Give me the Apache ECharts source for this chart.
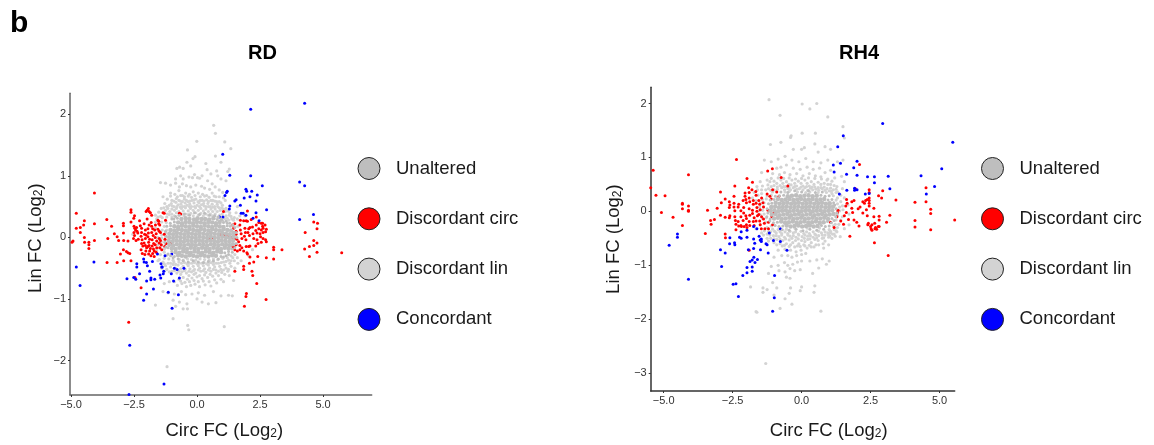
<!DOCTYPE html>
<html><head><meta charset="utf-8">
<script src="https://cdn.jsdelivr.net/npm/echarts@6/dist/echarts.min.js"></script>
<style>html,body{margin:0;padding:0;background:#fff}#c{width:1154px;height:445px}</style></head>
<body><div id="c"></div>
<script>
const legendNames = ['Unaltered','Discordant circ','Discordant lin','Concordant'];
const rdXTicks = [-5,-2.5,0,2.5,5];
const rdYTicks = [-2,-1,0,1,2];
const rh4XTicks = [-5,-2.5,0,2.5,5];
const rh4YTicks = [-3,-2,-1,0,1,2];

const rdConcordant = [[4.27,2.18],[2.13,2.08],[1.02,1.35],[1.3,1.01],[2.13,1],[4.07,.9],[4.27,.84],[2.59,.84],[1.94,.78],[1.97,.75],[2.17,.75],[1.2,.75],[1.17,.73],[1.11,.68],[2.39,.69],[2.1,.66],[1.87,.64],[2.34,.59],[1.55,.61],[1.5,.59],[1.72,.52],[1.3,.51],[1.28,.46],[2.76,.45],[2.34,.4],[1.75,.39],[1.83,.39],[1.94,.36],[.89,.33],[1.03,.33],[2.22,.31],[2.46,.27],[4.07,.29],[4.62,.37],[-4.09,-.4],[-4.79,-.48],[-4.64,-.78],[-2.67,-1.75],[-1.31,-2.38],[-2.7,-2.55],[-.99,-1.15],[-.74,-.93],[-1.14,-.89],[-2.12,-1.02],[-2,-.92],[-1.73,-.84],[-2.78,-.67],[-2.51,-.65],[-2.43,-.68],[-2.28,-.59],[-2.39,-.43],[-2.39,-.48],[-2.12,-.35],[-2.1,-.4],[-2.01,-.41],[-1.97,-.46],[-1.77,-.39],[-1.88,-.55],[-1.83,-.66],[-2,-.71],[-1.83,-.69],[-1.68,-.68],[-1.44,-.66],[-1.47,-.61],[-1.34,-.59],[-1.32,-.55],[-1.43,-.43],[-1.4,-.48],[-1.38,-.48],[-.93,-.71],[-.7,-.66],[-1.02,-.59],[-.9,-.5],[-.79,-.52],[-1.57,-.27],[-1.27,-.3],[-1,-.27],[-.52,-.5]];

const rdCirc = [[-4.92,-.06],[-4.96,-.08],[-4.79,.39],[-4.79,.15],[-4.63,.16],[-4.47,.27],[-4.5,.2],[-4.63,.08],[-4.47,0],[-4.46,-.08],[-4.29,-.08],[-4.29,-.12],[-4.29,-.18],[-4.07,.72],[-4.07,.22],[-4.07,-.05],[-3.58,.29],[-3.57,-.41],[-3.54,-.02],[-3.39,.18],[-3.28,.06],[-3.17,.01],[-3.17,-.41],[-3.11,-.05],[-2.92,.23],[-2.92,.19],[-2.92,.07],[-2.91,-.05],[-3.04,-.27],[-2.92,-.2],[-2.91,-.38],[-2.8,-.23],[-2.62,-.38],[-2.71,-1.38],[-2.74,-.06],[-2.62,.45],[-2.62,.41],[-2.51,.31],[-2.62,.25],[-2.74,-.25],[-2.67,-.26],[-2.46,-.65],[-2.22,-.82],
[-2.48,.35],[-2.5,.18],[-2.47,.15],[-2.44,.12],[-2.5,.08],[-2.48,.03],[-2.52,-.02],[-2.42,-.05],[-2.38,.1],[-2.4,.16],[-2.35,.07],[-2.33,-.03],[-2.28,.27],[-2.25,.19],[-2.2,.15],[-2.2,.08],[-2.22,.02],[-2.18,-.04],[-2.2,-.1],[-2.15,-.14],[-2.22,-.2],[-2.17,-.26],[-2.1,.22],[-2.05,.12],[-2.08,.05],[-2.02,.04],[-2.05,-.02],[-2.1,-.09],[-2.05,-.13],[-2,-.17],[-2.03,-.22],[-2.07,-.28],[-2.02,.42],[-1.98,.44],[-1.93,.47],[-1.9,.42],[-1.98,.3],[-1.9,.2],[-1.95,.14],[-1.93,.07],[-1.95,.01],[-1.88,-.03],[-1.92,-.08],[-1.9,-.13],[-1.95,-.15],[-1.85,-.18],[-1.88,-.22],[-1.92,-.27],[-1.83,-.3],[-1.85,.4],[-1.8,.36],[-1.82,.24],[-1.8,.18],[-1.76,.14],[-1.8,.08],[-1.74,.03],[-1.78,-.04],[-1.72,-.1],[-1.78,-.14],[-1.73,-.19],[-1.7,-.22],[-1.76,-.26],[-1.7,-.31],[-1.65,.2],[-1.68,.12],[-1.62,.06],[-1.66,0],[-1.6,-.06],[-1.66,-.12],[-1.6,-.17],[-1.62,-.24],[-1.55,.28],[-1.52,.26],[-1.52,.22],[-1.48,.2],[-1.55,.13],[-1.5,.1],[-1.45,.08],[-1.5,-.02],[-1.45,-.05],[-1.5,-.09],[-1.42,-.12],[-1.48,-.17],[-1.4,-.2],[-1.35,.4],[-1.3,.39],[-1.25,.28],[-1.3,.05],[-1.27,-.03],[-1.22,-.1],[-1.28,-.15],[-1.1,-.12],[-1.05,-.1],[-.7,.39],[-.6,.2],[-.65,.38],
[1.15,.03],[1.3,.02],[1.4,0],[1.42,.2],[1.5,.22],[1.45,.15],[1.55,.1],[1.55,.05],[1.48,-.02],[1.58,-.03],[1.65,-.07],[1.55,-.12],[1.48,-.16],[1.5,-.2],[1.42,-.15],[1.6,-.22],[1.7,-.2],[1.72,.28],[1.7,.2],[1.72,.12],[1.75,.06],[1.78,-.02],[1.7,-.13],[1.78,-.17],[1.85,-.22],[1.85,.27],[1.9,.15],[1.92,.08],[1.88,.02],[1.94,-.04],[1.95,-.15],[1.98,-.25],[2,.43],[1.95,.27],[2,.26],[2.05,.14],[2.02,.08],[2.1,.16],[2.08,.03],[2.1,-.14],[2.05,-.15],[2,-.27],[2.1,-.32],[2.15,.29],[2.2,.17],[2.22,.06],[2.25,-.02],[2.35,.33],[2.35,.2],[2.33,.11],[2.38,.07],[2.38,-.04],[2.33,-.14],[2.42,-.1],[2.45,.24],[2.45,.14],[2.5,.06],[2.52,.01],[2.55,-.08],[2.55,.23],[2.6,.23],[2.6,.18],[2.62,.15],[2.55,.12],[2.62,.08],[2.62,-.02],[2.7,.2],[2.75,.13],[2.72,.09],[2.72,-.04],[2.75,-.07],[.95,.05],[1.05,.04],[.65,-.01],[.5,-.02],[1.12,-.05],[1.05,.42],
[5.74,-.25],[4.78,.23],[4.63,.25],[4.76,.14],[4.29,.08],[4.63,-.05],[4.76,-.09],[4.63,-.13],[4.46,-.15],[4.27,-.19],[4.76,-.24],[4.46,-.31],[3.37,-.2],[3.04,-.16],[3.04,-.2],[3.04,-.35],[2.75,-.33],[2.41,-.31],[2.74,-1.01],[2.37,-.75],[2.18,-.55],[2.21,-.62],[2.25,-.4],[2.08,-.42],[1.85,-.47],[1.85,-.52],[1.5,-.55],[1.96,-.91],[1.94,-.96],[1.88,-1.12]];

const rdLin = [[-3.2,2.35],[-2.42,2.35],[.66,1.82],[.73,1.69],[-.01,1.56],[-.38,1.42],[1.1,1.55],[1.34,1.44],[.73,1.32],[-.16,1.28],[-.08,1.31],[-.4,1.22],[-.69,1.14],[-.8,1.12],[-1.45,.89],[-.25,1.16],[.35,1.2],[.95,1.22],[.78,1.08],[1.28,1.11],[1.22,1.07],[.82,1],[.55,1.03],[.2,1],[-.1,1.02],[-.65,1],[-.55,.95],[-.32,.98],[-.18,.97],[.02,.97],[.1,.96],[.42,.92],[.6,.87],[.95,.95],[1.15,.92],[-1.25,.88],[-1.05,.85],[-.85,.88],[-.7,.82],[-.58,.87],[-.42,.84],[-.25,.82],[-.05,.85],[.18,.83],[.3,.8],[.5,.78],[.72,.82],[.88,.77],[1.02,.73],[-1.05,.72],[-.88,.7],[-.72,.76],[-.58,.68],[-.45,.72],[-.3,.7],[-.15,.74],[.05,.72],[.22,.7],[.38,.68],[.6,.72],[.75,.66],[-1.35,.66],[-1.18,.62],[-1,.6],[-.82,.63],[-.66,.59],[-.5,.62],[-.35,.58],[-.2,.6],[-.05,.62],[.12,.6],[.28,.59],[.45,.58],[.62,.6],[.78,.58],[.95,.56],[1.12,.6],[-1.28,.55],[-1.1,.52],[-.92,.5],[-.75,.53],[-.58,.5],[-.4,.52],[-.22,.5],[0,.52],[.18,.53],[.35,.5],[.52,.5],[.7,.5],[.88,.48],[1.05,.46],[1.22,.43],[-1.42,.47],[-1.25,.44],[-1.08,.42],[-.9,.44],[-.72,.42],[-.55,.43],[-.35,.43],[-.15,.44],[.05,.44],[.25,.43],[.45,.42],[.62,.42],[.8,.42],[1,.38],[1.15,.35],[1.35,.34],[-1.65,.36],[-1.45,.34],[-1.65,.25],[-1.55,-.38],[-1.35,-.4],[-1.15,-.42],[-.95,-.44],[-.75,-.45],[-.55,-.47],[-.35,-.46],[-.15,-.47],[.05,-.46],[.25,-.46],[.45,-.45],[.65,-.44],[.85,-.42],[1.05,-.4],[1.25,-.37],[1.42,-.33],[-1.4,-.5],[-1.2,-.52],[-1,-.55],[-.8,-.58],[-.6,-.56],[-.42,-.58],[-.22,-.56],[-.05,-.58],[.15,-.55],[.35,-.57],[.55,-.55],[.75,-.53],[.95,-.52],[1.15,-.5],[1.35,-.47],[1.62,-.42],[-.72,-.68],[-.55,-.65],[-.38,-.68],[-.2,-.66],[0,-.64],[.2,-.67],[.42,-.65],[.62,-.63],[.85,-.62],[1.1,-.6],[1.28,-.62],[-1.3,-.75],[-1.1,-.72],[-.78,-.78],[-.6,-.75],[-.42,-.8],[-.25,-.78],[-.08,-.76],[.1,-.8],[.32,-.77],[.55,-.79],[.78,-.74],[1.05,-.72],[1.45,-.7],[-1.35,-.88],[-1.15,-.9],[-.9,-.92],[-.62,-.88],[-.45,-.93],[-.2,-.92],[.05,-.9],[.3,-.94],[.65,-.88],[.95,-.95],[1.25,-.94],[1.4,-.95],[-.95,-1.02],[-.7,-1.05],[-.4,-1.08],[0,-1],[.2,-1.05],[.45,-1.08],[.75,-1.06],[-1.65,-1.1],[-.85,-1.12],[-.38,-1.16],[-.55,-1.16],[-.95,-1.32],[-.37,-1.43],[-.33,-1.5],[1.08,-1.45],[-1.19,-2.1],[2.05,-.3],[2.2,-.2],[1.75,-.38],[1.9,.35],[1.7,.35],[1.55,.4],[1.6,.5],[-2.55,.05],[-.85,.95],[.4,1.1],[-.55,1.12]];

const rdLinDense = [[-1.02,.55],[-.84,.57],[-.64,.54],[-.47,.56],[-.29,.54],[-.12,.56],[.08,.56],[.26,.55],[.43,.55],[.6,.54],[.8,.54],[1.01,.52],[-1.32,.48],[-1.16,.47],[-1,.46],[-.82,.47],[-.62,.47],[-.46,.48],[-.26,.47],[-.06,.48],[.15,.47],[.35,.46],[.55,.46],[.72,.46],[.92,.44],[1.12,.42],[1.3,.4],[-1.52,.41],[-1.33,.4],[-1.18,.38],[-1,.38],[-.82,.4],[-.62,.38],[-.45,.38],[-.25,.39],[-.05,.4],[.15,.39],[.35,.38],[.53,.38],[.72,.38],[.9,.36],[1.28,.36],[1.48,.32],[-1.55,.33],[-1.38,.32],[-1.2,.33],[-1,.33],[1.12,.3],[1.25,.28],[1.45,.28],[1.6,.3],[1.62,.18],[-1.65,.15],[-1.6,.3],[-1.4,.25],[-1.3,.18],[-1.22,.24],[-1.38,.12],[-1.2,.12],[-1.25,.07],[-1.4,.04],[-1.55,0],[-1.4,-.01],[-1.25,.01],[-1.58,-.06],[-1.42,-.07],[-1.27,-.05],[-1.55,-.12],[-1.4,-.13],[-1.25,-.11],[-1.45,-.18],[-1.3,-.19],[-1.3,-.24],[-1.2,-.29],[-1.45,-.28],[-1.6,-.2],
[-1.5,-.36],[-1.3,-.34],[-1.12,-.35],[-.95,-.37],[-.7,-.36],[-.55,-.37],[-.38,-.35],[-.22,-.36],[-.05,-.37],[.12,-.35],[.3,-.36],[.48,-.37],[.65,-.35],[.82,-.36],[1.02,-.34],[1.2,-.33],[1.35,-.3],[1.5,-.28],[1.6,-.33],[-1.25,-.46],[-1.05,-.48],[-.85,-.5],[-.65,-.51],[-.47,-.52],[-.28,-.51],[-.1,-.52],[.1,-.5],[.3,-.51],[.5,-.5],[.7,-.48],[.9,-.47],[1.1,-.45],[1.3,-.42],[1.48,-.38],[-.3,-.42],[-.1,-.41],[.08,-.42],[.28,-.41],[.45,-.42],[.65,-.4],[-.5,-.41],[-.72,-.4],[-.92,-.4],[-.65,-.6],[-.32,-.62],[-.12,-.6],[.1,-.62],[.3,-.61],[.52,-.6],[.75,-.58],[.98,-.57],[1.22,-.55],[1.5,-.5],
[-1.1,.37],[-.9,.35],[-.72,.36],[-.52,.35],[-.35,.37],[-.15,.35],[.05,.36],[.25,.35],[.45,.36],[.62,.35],[.82,.33],[1.02,.33],[1.2,.31],[1.38,.3],[-1.2,.5],[-.98,.51],[-.8,.5],[-.66,.49],[-.5,.5],[-.3,.5],[-.1,.5],[.1,.5],[.28,.51],[.45,.5],[.62,.49],[.82,.5],[.98,.48],[1.15,.47],[-.92,.59],[-.72,.6],[-.58,.58],[-.42,.6],[-.28,.59],[-.12,.61],[.04,.58],[.2,.6],[.38,.61],[.55,.6],[.7,.59],[.88,.58],[-1.05,.67],[-.78,.66],[-.65,.68],[-.5,.66],[-.35,.67],[-.22,.65],[-.08,.68],[.13,.66],[.3,.67],[.48,.65],[.68,.67],[.88,.66],[1.05,.64],
[-1.3,-.43],[-1.05,-.42],[-.85,-.44],[-.62,-.42],[-.4,-.43],[-.2,-.42],[0,-.43],[.18,-.42],[.38,-.43],[.56,-.41],[.76,-.42],[.96,-.41],[1.15,-.39],[1.35,-.38],[-1.3,-.55],[-1.1,-.56],[-.9,-.54],[-.72,-.55],[-.5,-.54],[-.32,-.55],[-.14,-.54],[.05,-.53],[.25,-.54],[.45,-.53],[.65,-.52],[.85,-.55],[1.05,-.53],[1.25,-.52],[-.9,-.72],[-.65,-.71],[-.48,-.73],[-.3,-.72],[-.12,-.7],[.05,-.72],[.25,-.71],[.48,-.72],[.7,-.69],[.95,-.68]];

const rdUnaltered = [[-.62,.3],[-.45,.31],[-.3,.3],[-.12,.29],[.02,.31],[.18,.3],[.32,.3],[.48,.29],[.65,.31],
[-.75,.24],[-.6,.23],[-.45,.25],[-.3,.24],[-.15,.23],[0,.25],[.15,.24],[.3,.23],[.45,.25],[.6,.24],[.75,.23],[.9,.25],
[-.9,.18],[-.75,.17],[-.6,.19],[-.45,.18],[-.3,.17],[-.15,.19],[0,.18],[.15,.17],[.3,.19],[.45,.18],[.6,.17],[.75,.19],[.9,.18],[1.05,.17],
[-1.05,.12],[-.9,.11],[-.75,.13],[-.6,.12],[-.45,.11],[-.3,.13],[-.15,.12],[0,.11],[.15,.13],[.3,.12],[.45,.11],[.6,.13],[.75,.12],[.9,.11],[1.05,.13],[1.2,.12],[1.35,.11],
[-1.1,.06],[-.95,.05],[-.8,.07],[-.65,.06],[-.5,.05],[-.35,.07],[-.2,.06],[-.05,.05],[.1,.07],[.25,.06],[.4,.05],[.55,.07],[.7,.06],[.85,.05],[1,.07],[1.15,.06],[1.3,.05],[1.45,.07],
[-1.1,0],[-.95,-.01],[-.8,.01],[-.65,0],[-.5,-.01],[-.35,.01],[-.2,0],[-.05,-.01],[.1,.01],[.25,0],[.4,-.01],[.55,.01],[.7,0],[.85,-.01],[1,.01],[1.15,0],[1.3,-.01],[1.45,.01],
[-1.12,-.06],[-.97,-.07],[-.82,-.05],[-.67,-.06],[-.52,-.07],[-.37,-.05],[-.22,-.06],[-.07,-.07],[.08,-.05],[.23,-.06],[.38,-.07],[.53,-.05],[.68,-.06],[.83,-.07],[.98,-.05],[1.13,-.06],[1.28,-.07],[1.43,-.05],
[-1.1,-.12],[-.95,-.13],[-.8,-.11],[-.65,-.12],[-.5,-.13],[-.35,-.11],[-.2,-.12],[-.05,-.13],[.1,-.11],[.25,-.12],[.4,-.13],[.55,-.11],[.7,-.12],[.85,-.13],[1,-.11],[1.15,-.12],[1.3,-.13],[1.42,-.11],
[-1,-.18],[-.85,-.19],[-.7,-.17],[-.55,-.18],[-.4,-.19],[-.25,-.17],[-.1,-.18],[.05,-.19],[.2,-.17],[.35,-.18],[.5,-.19],[.65,-.17],[.8,-.18],[.95,-.19],[1.1,-.17],[1.25,-.18],
[-.85,-.24],[-.7,-.25],[-.55,-.23],[-.4,-.24],[-.25,-.25],[-.1,-.23],[.05,-.24],[.2,-.25],[.35,-.23],[.5,-.24],[.65,-.25],[.8,-.23],[.95,-.24],
[-.75,-.29],[-.6,-.3],[-.45,-.31],[-.3,-.29],[-.15,-.3],[0,-.31],[.15,-.29],[.3,-.3],[.45,-.31],[.6,-.29],[.75,-.3]];

const rdUnalteredEdge = [[-.92,.3],[-.78,.31],[.8,.29],[.95,.3],[-1.06,.23],[-.9,.25],[1.05,.24],[1.2,.23],[-1.05,.19],[1.2,.19],[1.32,.18],[-1.2,.18],[-1.25,.1],[-1.22,.02],[-1.28,-.08],[-1.24,-.16],[-1.15,-.27],[-1,.3],[-.85,.34],[-.7,.36],[-.5,.38],[-.3,.36],[-.1,.4],[.1,.37],[.3,.39],[.5,.36],[.7,.35],[.85,.33],[1,.28],[1.15,.26],[1.3,.23],[1.42,.2],[1.5,.16],[1.55,.08],[1.58,0],[1.55,-.1],[1.5,-.17],[1.4,-.24],[1.25,-.28],[1.05,-.32],[.85,-.35],[.65,-.38],[.45,-.39],[.25,-.41],[.05,-.4],[-.15,-.38],[-.35,-.4],[-.55,-.38],[-.75,-.35],[-.95,-.33],[-1.15,-.17],[-1,-.23],[1.1,-.25],[1.25,-.23],[1.38,-.19],[-1.05,-.3],[-.9,-.31],[.95,-.31],[1.15,-.3]];

const rh4Concordant = [[2.94,1.63],[1.51,1.4],[1.31,1.2],[5.48,1.28],[5.08,.79],[2.01,.93],[1.41,.89],[1.15,.86],[1.18,.73],[1.89,.81],[2.01,.67],[1.63,.69],[2.39,.64],[2.64,.64],[3.14,.65],[4.33,.66],[2.64,.53],[4.82,.46],[3.2,.42],[1.92,.43],[1.92,.39],[2.01,.4],[1.64,.39],[1.37,.32],[2.31,.32],[2.45,.33],[4.52,.32],[-4.5,-.42],[-4.5,-.48],[-4.8,-.63],[-4.1,-1.26],[-2.94,-.71],[-2.77,-.77],[-2.9,-1.02],[-2.6,-.49],[-2.61,-.6],[-2.43,-.58],[-2.42,-.62],[-2.48,-1.35],[-2.38,-1.34],[-2.29,-1.58],[-2.13,-1.19],[-1.98,-1.14],[-1.98,-1.04],[-1.79,-1.03],[-1.79,-1.11],[-1.87,-.93],[-1.79,-.9],[-1.73,-.85],[-1.69,-.95],[-1.6,-.89],[-1.93,-.71],[-1.74,-.69],[-1.49,-.71],[-1.21,-.77],[-.98,-1.19],[-.99,-1.6],[-1.05,-1.85],[-2.19,-.38],[-2.19,-.5],[-1.98,-.35],[-1.98,-.48],[-1.74,-.28],[-1.62,-.32],[-1.74,-.51],[-1.7,-.59],[-1.54,-.46],[-1.5,-.53],[-1.46,-.51],[-1.29,-.6],[-1.25,-.62],[-1.02,-.54],[-.77,-.56],[-1.17,-.4],[-.77,-.32],[-.53,-.72],[-2.25,-.48],[-1.46,-.56],[-1.47,-.53]];

const rh4Circ = [[-5.38,.76],[-5.47,.44],[-5.28,.3],[-4.95,.29],[-5.08,-.02],[-4.66,-.11],[-4.32,-.26],[-4.32,.15],[-4.32,.13],[-4.32,.05],[-4.1,.68],[-4.1,.1],[-4.1,.02],[-4.1,0],[-3.49,-.41],[-3.41,.02],[-3.3,-.17],[-3.28,-.24],[-3.16,-.15],[-3.06,.06],[-2.94,.36],[-2.77,.23],[-2.91,.16],[-2.77,-.11],[-2.77,-.42],[-2.76,-.49],[-2.94,-.07],[-2.36,.96],[-2.42,.47],[-1.98,.61],[-1.23,.75],[-1.06,.79],[-.74,.63],[-1.9,-.72],
[-2.62,.18],[-2.6,.12],[-2.62,.07],[-2.6,-.08],[-2.62,-.12],[-2.45,.28],[-2.45,.15],[-2.45,.08],[-2.42,.01],[-2.42,-.1],[-2.4,-.17],[-2.38,-.24],[-2.38,-.34],[-2.3,.08],[-2.3,-.19],[-2.28,-.27],[-2.28,.13],[-2.2,.01],[-2.2,-.1],[-2.2,-.26],[-2.18,-.28],[-2.12,.2],[-2.1,.07],[-2.1,-.03],[-2.12,-.17],[-2.08,-.28],[-2.05,.34],[-2.05,.28],[-2.02,.22],[-2,.16],[-2.02,-.08],[-2,-.13],[-2,-.25],[-1.98,-.3],[-1.92,.44],[-1.9,.35],[-1.9,.25],[-1.88,.18],[-1.9,.05],[-1.88,-.07],[-1.9,-.19],[-1.88,-.26],[-1.8,.4],[-1.78,.54],[-1.75,.2],[-1.75,.13],[-1.78,.02],[-1.78,-.04],[-1.72,-.12],[-1.75,-.19],[-1.72,-.26],[-1.66,.37],[-1.65,.3],[-1.65,.15],[-1.62,.07],[-1.62,0],[-1.6,-.08],[-1.65,-.18],[-1.55,.2],[-1.52,.13],[-1.5,.03],[-1.55,-.06],[-1.52,-.18],[-1.5,-.25],[-1.45,.25],[-1.45,-.1],[-1.46,-.32],[-1.4,.16],[-1.38,.08],[-1.38,-.14],[-1.35,-.22],[-1.33,-.32],[-1.25,.32],[-1.22,.02],[-1.2,-.2],[-1.2,-.32],[-1.15,.28],[-1.1,.23],[-1.08,-.1],[-1.05,-.25],[-1.05,.4],[-.9,.36],[-.5,.47],[-.82,.28],[-1,-.02],[-.3,-.15],
[1.05,-.2],[1.18,-.3],[1.28,-.1],[1.3,-.02],[1.32,.02],[1.42,-.18],[1.52,-.24],[1.55,-.08],[1.6,.1],[1.62,-.02],[1.65,.15],[1.63,.22],[1.7,-.15],[1.82,.18],[1.82,.06],[1.85,-.02],[1.9,-.16],[1.9,.2],[1.95,.42],[2,-.2],[2.05,.05],[2.08,-.27],[2.1,.87],[2.12,.08],[2.22,.18],[2.28,.15],[2.22,-.03],[2.32,.2],[2.35,.03],[2.38,.22],[2.38,-.08],[2.4,-.25],[2.42,-.22],[2.45,.4],[2.45,.35],[2.45,.25],[2.45,.2],[2.45,.15],[2.45,.1],[2.5,-.28],[2.52,-.32],[2.55,-.35],[2.55,-.25],[2.62,.06],[2.62,-.1],[2.65,-.22],[2.68,-.3],[2.72,-.33],[2.78,-.28],[3.14,-.82],[2.64,-.58],[3.42,.21],[2.94,.38],[2.9,.25],[2.79,.29],[3.2,-.07],[3.08,-.2],[2.81,-.09],[2.81,-.16],[2.81,-.28],[2.66,-.32],[4.11,.17],[4.11,-.17],[4.11,-.29],[4.51,.44],[4.51,.18],[4.68,.04],[4.68,-.04],[4.68,-.34],[5.55,-.16],[1.75,-.46]];

const rh4Lin = [[-1.18,2.07],[.02,1.99],[.55,2],[.3,1.9],[-.78,1.78],[.95,1.75],[1.5,1.57],[.02,1.45],[.5,1.45],[-.38,1.4],[-.4,1.37],[1.55,1.36],[-1.13,1.24],[-.75,1.28],[-.3,1.15],[0,1.15],[.1,1.18],[.48,1.25],[.6,1.1],[.85,1.2],[1.05,1.15],[-1.35,.95],[-1.1,.92],[-.85,.97],[-.6,1.02],[-.35,.95],[-.1,.92],[.15,.98],[.42,.92],[.7,.9],[.95,.95],[1.3,.92],[1.5,.95],[-.9,.8],[-.75,.82],[-.55,.86],[-.3,.8],[-.05,.78],[.2,.82],[.42,.78],[.65,.8],[.85,.72],[1.05,.76],[1.45,.65],[-1.45,.72],[-1.05,.7],[-.8,.68],[-.62,.72],[-.42,.68],[-.18,.7],[.05,.66],[.28,.7],[.5,.66],[.7,.64],[.95,.6],[1.2,.62],[1.55,.55],[-1.5,.55],[-1.25,.58],[-1,.56],[-.75,.58],[-.55,.55],[-.35,.58],[-.12,.56],[.12,.58],[.35,.55],[.6,.54],[.82,.52],[1.05,.5],[1.28,.46],[1.48,.42],[-1.62,.46],[-1.42,.47],[-1.22,.49],[-1,.48],[-.78,.48],[-.58,.46],[-.38,.49],[-.18,.47],[.05,.47],[.28,.47],[.48,.45],[.7,.44],[.92,.42],[1.15,.4],[-1.72,.35],[-1.6,.4],[-1.45,.33],[1.25,.35],[1.42,.3],[1.55,.25],[-1.78,.25],[1.68,.12],[1.72,-.05],[-1.65,-.32],[-1.45,-.4],[-1.25,-.42],[-1.02,-.45],[-.82,-.47],[-.62,-.48],[-.42,-.46],[-.2,-.48],[.02,-.47],[.22,-.46],[.42,-.48],[.62,-.45],[.85,-.44],[1.05,-.4],[1.28,-.38],[1.55,-.32],[1.72,-.25],[-1.2,-.55],[-1,-.58],[-.78,-.6],[-.55,-.6],[-.32,-.58],[-.1,-.6],[.12,-.56],[.35,-.58],[.6,-.54],[.85,-.55],[1.1,-.5],[1.4,-.47],[-.85,-.72],[-.6,-.7],[-.4,-.72],[-.2,-.75],[-.02,-.72],[.2,-.68],[.45,-.66],[.8,-.68],[-1,-.85],[-.72,-.82],[-.5,-.82],[-.35,-.85],[-.18,-.82],[0,-.8],[.15,-.78],[.55,-.9],[.75,-.88],[1,-.92],[-1.1,-1.02],[-.85,-1],[-.62,-.95],[-.5,-1],[-.32,-.98],[-.15,-.94],[0,-.92],[.3,-.92],[.62,-1.05],[.9,-.98],[-1.2,-1.15],[-.82,-1.1],[-.6,-1.12],[-.42,-1.06],[-.25,-1.1],[-.05,-1.08],[.4,-1.15],[-.55,-1.22],[-.42,-1.24],[-1.05,-1.32],[-1.85,-1.4],[-.4,-1.42],[.48,-1.38],[-1.4,-1.42],[-1.25,-1.45],[-.9,-1.42],[-.05,-1.47],[.45,-1.5],[-1.4,-1.5],[-1,-1.55],[-.45,-1.52],[0,-1.4],[-.6,-1.62],[-.35,-1.72],[-.78,-1.8],[-1.62,-1.87],[-1.65,-1.86],[.7,-1.85],[-1.3,-2.82]];

const rh4LinDense = [[-.72,.44],[-.5,.42],[-.3,.44],[-.08,.42],[.12,.44],[.32,.43],[.52,.41],[-1.2,.42],[-1,.4],[.75,.42],[1,.38],[-1.05,.36],[-.9,.37],[-.6,.36],[-.45,.37],[-.15,.36],[.15,.35],[.3,.36],[.6,.35],[.9,.35],[1.1,.33],[-1.25,.29],[-1.1,.3],[1.15,.29],[1.3,.25],[-1.42,.22],[-1.28,.23],[1.25,.21],[1.42,.18],[-1.5,.15],[-1.36,.16],[1.3,.14],[1.48,.1],[-1.52,.08],[-1.38,.09],[1.38,.08],[1.5,.03],[-1.55,.01],[-1.41,.02],[1.38,.01],[-1.5,-.06],[-1.36,-.05],[1.3,-.07],[1.48,-.1],[-1.42,-.13],[-1.28,-.12],[1.25,-.16],[1.42,-.16],[-1.3,-.2],[1.22,-.24],[1.35,-.24],[-1.1,-.27],[1.15,-.27],[1.3,-.3],[-1.25,-.3],[-1.05,-.33],[-.85,-.34],[-.55,-.33],[-.25,-.31],[.2,-.31],[.65,-.31],[1,-.34],[1.18,-.34],[-.5,-.41],[-.3,-.4],[-.12,-.42],[.08,-.41],[.28,-.41],[.48,-.42],[.72,-.4],[.95,-.4],[1.12,-.42],[-.92,-.4],[-.72,-.41],[-1.12,-.38],[-1.35,-.36],
[-1.15,.55],[-.9,.52],[-.68,.52],[-.46,.5],[-.25,.52],[-.02,.52],[.2,.52],[.45,.5],[.7,.5],[.95,.5],[1.18,.48],[-1.3,.4],[-1.58,.3],[-1.65,.2],[-1.5,-.25],[-1.38,-.44],[-1.12,-.5],[-.9,-.52],[-.68,-.54],[-.45,-.53],[-.22,-.54],[0,-.54],[.22,-.52],[.48,-.52],[.75,-.5],[.98,-.48],[1.22,-.46],[-.7,-.64],[-.45,-.65],[-.25,-.66],[-.05,-.65],[.12,-.64],[.35,-.66],[.62,-.62],[.98,-.62],
[-1.1,.46],[-.88,.45],[-.65,.46],[-.45,.44],[-.25,.46],[-.02,.45],[.18,.46],[.38,.45],[.6,.44],[.82,.45],[1.05,.43],[1.25,.41],[-1.45,.4],[-1.12,.39],[-.88,.41],[-.62,.4],[-.4,.4],[-.18,.41],[.05,.4],[.22,.39],[.4,.4],[.62,.39],[.85,.39],[1.08,.37],[1.3,.36],[-1.1,.61],[-.85,.62],[-.65,.61],[-.45,.62],[-.22,.6],[0,.61],[.25,.62],[.48,.61],[.72,.6],[.92,.58],[1.1,.56],
[-1.2,-.38],[-.98,-.37],[-.78,-.38],[-.6,-.38],[-.42,-.37],[-.22,-.38],[-.02,-.37],[.18,-.38],[.42,-.38],[.62,-.37],[.85,-.38],[1.05,-.37],[1.25,-.36],[-1.15,-.44],[-.92,-.45],[-.72,-.44],[-.5,-.44],[-.3,-.45],[-.1,-.44],[.12,-.44],[.32,-.45],[.52,-.44],[.75,-.44],[.98,-.44],[1.18,-.42],[-1.25,-.5],[-1,-.51],[-.78,-.52],[-.58,-.51],[-.35,-.5],[-.12,-.51],[.1,-.5],[.3,-.51],[.55,-.49],[.8,-.49],[1.02,-.46],[-.9,-.62],[-.62,-.63],[-.4,-.62],[-.15,-.64],[.08,-.62],[.28,-.63],[.52,-.62],[.78,-.6]];

const rh4Unaltered = [[-.5,.28],[-.35,.29],[-.2,.3],[-.05,.28],[.1,.29],[.25,.3],[.4,.28],[.55,.29],
[-.86,.23],[-.72,.21],[-.58,.22],[-.44,.23],[-.3,.21],[-.16,.22],[-.02,.23],[.12,.21],[.26,.22],[.4,.23],[.54,.21],[.68,.22],[.82,.23],
[-.94,.16],[-.8,.14],[-.66,.15],[-.52,.16],[-.38,.14],[-.24,.15],[-.1,.16],[.04,.14],[.18,.15],[.32,.16],[.46,.14],[.6,.15],[.74,.16],[.88,.14],[1.02,.15],
[-1.1,.08],[-.96,.09],[-.82,.07],[-.68,.08],[-.54,.09],[-.4,.07],[-.26,.08],[-.12,.09],[.02,.07],[.16,.08],[.3,.09],[.44,.07],[.58,.08],[.72,.09],[.86,.07],[1,.08],[1.14,.09],
[-1.13,.01],[-.99,.02],[-.85,0],[-.71,.01],[-.57,.02],[-.43,0],[-.29,.01],[-.15,.02],[-.01,0],[.13,.01],[.27,.02],[.41,0],[.55,.01],[.69,.02],[.83,0],[.97,.01],[1.11,.02],
[-1.08,-.06],[-.94,-.05],[-.8,-.07],[-.66,-.06],[-.52,-.05],[-.38,-.07],[-.24,-.06],[-.1,-.05],[.04,-.07],[.18,-.06],[.32,-.05],[.46,-.07],[.6,-.06],[.74,-.05],[.88,-.07],[1.02,-.06],[1.16,-.05],
[-1,-.13],[-.86,-.12],[-.72,-.14],[-.58,-.13],[-.44,-.12],[-.3,-.14],[-.16,-.13],[-.02,-.12],[.12,-.14],[.26,-.13],[.4,-.12],[.54,-.14],[.68,-.13],[.82,-.12],[.96,-.14],
[-.74,-.19],[-.6,-.21],[-.46,-.2],[-.32,-.19],[-.18,-.21],[-.04,-.2],[.1,-.19],[.24,-.21],[.38,-.2],[.52,-.19],[.66,-.21],[.8,-.2],
[-.54,-.26],[-.4,-.28],[-.26,-.27],[-.12,-.26],[.02,-.28],[.16,-.27],[.3,-.26],[.44,-.28],[.58,-.27]];

const rh4UnalteredEdge = [[-.95,.28],[-.8,.29],[-.65,.3],[.7,.3],[.85,.28],[1,.29],[-1.14,.21],[-1,.22],[.96,.21],[1.1,.22],[-1.2,.14],[-1.08,.15],[1.16,.16],[-1.25,.05],[-1.22,-.03],[-1.26,-.1],[-1.14,-.14],[-1.15,-.18],[1.1,-.13],[1.2,.12],[1.25,.05],[1.28,-.03],[1.24,-.1],[1.18,-.17],[-1.02,-.21],[-.88,-.2],[.94,-.19],[1.08,-.21],[-.96,-.26],[-.82,-.28],[-.68,-.27],[.72,-.26],[.86,-.28],[1,-.27],[-.75,.36],[-.5,.35],[-.25,.38],[0,.36],[.25,.38],[.5,.35],[.75,.36],[-.7,-.34],[-.45,-.35],[-.2,-.33],[.05,-.36],[.3,-.33],[.55,-.35],[.8,-.33]];

const fmt = v => (v < 0 ? '\u2212' : '') + Math.abs(v);
const fmtX = v => (v < 0 ? '\u2212' : '') + Math.abs(v).toFixed(1);
const FONT = '"Liberation Sans", Arial, sans-serif';
const nameRich = {
  a: {fontSize: 18.5, color: '#1a1a1a', fontFamily: FONT},
  s: {fontSize: 12, color: '#1a1a1a', fontFamily: FONT, padding: [7, 0, 0, 0]}
};
function xAxis(idx, min, max, ticks, lineColor, gap, pad) {
  return {type:'value', gridIndex:idx, min, max, splitLine:{show:false},
    axisLine:{onZero:false, lineStyle:{color:lineColor, width:1.5}},
    axisTick:{length:2, customValues:ticks, lineStyle:{color:'#333'}},
    axisLabel:{customValues:ticks, formatter:fmtX, fontSize:11, color:'#333', fontFamily:FONT, margin:4},
    name:'{a|Circ FC (Log}{s|2}{a|)}', nameLocation:'middle', nameGap:gap,
    nameTextStyle:{rich:nameRich, padding:pad}};
}
function yAxis(idx, min, max, ticks, lineColor, gap, pad) {
  return {type:'value', gridIndex:idx, min, max, splitLine:{show:false},
    axisLine:{onZero:false, lineStyle:{color:lineColor, width:1.5}},
    axisTick:{length:2, customValues:ticks, lineStyle:{color:'#333'}},
    axisLabel:{customValues:ticks, formatter:fmt, fontSize:11, color:'#333', fontFamily:FONT, margin:4},
    name:'{a|Lin FC (Log}{s|2}{a|)}', nameLocation:'middle', nameGap:gap, nameRotate:90,
    nameTextStyle:{rich:nameRich, padding:pad}};
}
function scatter(name, data, color, idx, size, z) {
  return {type:'scatter', name, data, xAxisIndex:idx, yAxisIndex:idx, symbolSize:size, z,
    itemStyle:{color, opacity:1, borderWidth:0}, silent:true, clip:true, animation:false};
}
function legend(left) {
  return {orient:'vertical', left, top:152, itemWidth:22, itemHeight:22, itemGap:27.3, icon:'circle',
    selectedMode:false, data:legendNames,
    itemStyle:{borderColor:'#222', borderWidth:1},
    textStyle:{fontSize:18.5, color:'#1a1a1a', fontFamily:FONT, padding:[0,0,6,11]}};
}
const chart = echarts.init(document.getElementById('c'), null, {renderer:'canvas'});
chart.setOption({
  animation:false, backgroundColor:'#fff',
  title:[
    {text:'b', left:5, top:4, textStyle:{fontSize:30, fontWeight:'bold', color:'#000', fontFamily:FONT}},
    {text:'RD', left:257.5, top:38, textAlign:'center', textStyle:{fontSize:20, fontWeight:'bold', color:'#000', fontFamily:FONT}},
    {text:'RH4', left:854, top:38, textAlign:'center', textStyle:{fontSize:20, fontWeight:'bold', color:'#000', fontFamily:FONT}}
  ],
  grid:[
    {left:70, top:93.3, width:301.7, height:303.7},
    {left:650.7, top:87.3, width:304, height:303.7}
  ],
  xAxis:[xAxis(0,-5.04,6.93,rdXTicks,'#666',26,[0,0,0,7]), xAxis(1,-5.47,5.55,rh4XTicks,'#333',30,[0,0,0,52])],
  yAxis:[yAxis(0,-2.56,2.34,rdYTicks,'#666',25,[0,0,0,12]), yAxis(1,-3.33,2.3,rh4YTicks,'#333',27,[0,0,0,0])],
  legend:[legend(352.5), legend(976)],
  series:[
    scatter('Discordant lin', rdLin.concat(rdLinDense), '#D3D3D3', 0, 3.2, 1),
    scatter('Discordant circ', rdCirc, '#FF0000', 0, 3, 2),
    scatter('Concordant', rdConcordant, '#0000FF', 0, 3, 3),
    scatter('Unaltered', rdUnaltered, '#BEBEBE', 0, 4.5, 4),
    scatter('Unaltered', rdUnalteredEdge, '#BEBEBE', 0, 3, 4),
    scatter('Discordant lin', rh4Lin.concat(rh4LinDense), '#D3D3D3', 1, 3.2, 1),
    scatter('Discordant circ', rh4Circ, '#FF0000', 1, 3, 2),
    scatter('Concordant', rh4Concordant, '#0000FF', 1, 3, 3),
    scatter('Unaltered', rh4Unaltered, '#BEBEBE', 1, 4.5, 4),
    scatter('Unaltered', rh4UnalteredEdge, '#BEBEBE', 1, 3, 4)
  ]
});
</script></body></html>
